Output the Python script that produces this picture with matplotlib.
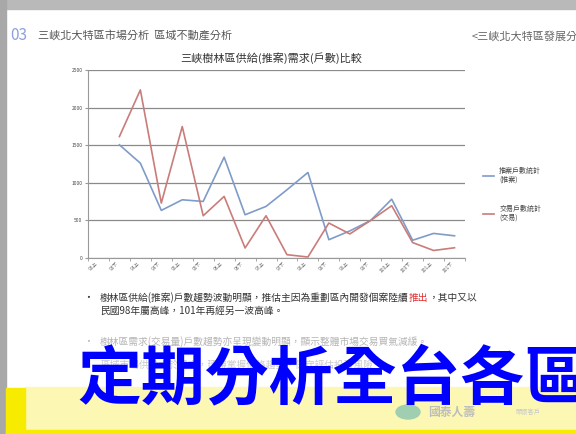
import numpy as np, matplotlib; matplotlib.use("Agg")
import matplotlib.pyplot as plt
from matplotlib.patches import Rectangle, Ellipse
plt.rcParams['font.family']=['Noto Sans CJK TC','DejaVu Sans']

periods=['93上','93下','94上','94下','95上','95下','96上','96下','97上','97下',
         '98上','98下','99上','99下','100上','100下','101上','101下']
supply=[np.nan,1505,1261,633,774,752,1341,575,686,907,1137,243,360,500,782,236,327,295]
demand=[np.nan,1615,2235,730,1748,562,819,133,562,44,13,465,320,500,695,205,100,136]
yticks=[0,500,1000,1500,2000,2500]
BLUE='#7f9cc8'; RED='#c97c7a'

fig=plt.figure(figsize=(5.76,4.34),dpi=100)
W,H=576,434
def fx(px): return px/W
def fy(py): return 1-py/H

# slide frame
fig.patches.append(Rectangle((0,fy(9)),1,9/H,transform=fig.transFigure,color='#b9b9b9',zorder=0))
fig.patches.append(Rectangle((0,0),fx(6),1,transform=fig.transFigure,color='#a8a8a8',zorder=0))
fig.patches.append(Rectangle((fx(25),fy(430)),1,(430-387)/H,transform=fig.transFigure,color='#fcf8b4',zorder=0))
fig.patches.append(Rectangle((fx(6),0),fx(19),fy(388),transform=fig.transFigure,color='#f7ec00',zorder=0))
fig.patches.append(Rectangle((fx(6),0),1,4/H,transform=fig.transFigure,color='#f7ec00',zorder=0))

# header
fig.text(fx(10),fy(36),'03',fontsize=11,style='italic',color='#8f9fe0',va='center')
fig.text(fx(38),fy(35),'三峽北大特區市場分析  區域不動產分析',fontsize=8,color='#555555',va='center')
fig.text(fx(472),fy(36),'<三峽北大特區發展分析',fontsize=8,color='#666666',va='center')

# chart
ax=fig.add_axes([fx(88),fy(258),fx(465)-fx(88),(258-70)/H])
x=np.arange(len(periods))
ax.plot(x,supply,color=BLUE,lw=1.2,label='推案戶數統計\n(推案)')
ax.plot(x,demand,color=RED,lw=1.2,label='交易戶數統計\n(交易)')
ax.set_xlim(-0.5,len(periods)-0.5); ax.set_ylim(0,2500)
ax.set_yticks(yticks); ax.set_yticklabels([str(v) for v in yticks],fontsize=3.5,color='#444444')
ax.set_xticks(x); ax.set_xticklabels(periods,fontsize=3.5,rotation=45,ha='right',color='#666666')
ax.set_xticks(np.arange(-0.5,len(periods)),minor=True)
ax.tick_params(axis='x',which='major',length=0,pad=2)
ax.tick_params(axis='x',which='minor',length=2,color='#999999')
ax.tick_params(axis='y',length=2,pad=2,color='#999999')
ax.grid(axis='y',color='#8a8a8a',lw=0.9)
for sp in ['top','right']: ax.spines[sp].set_visible(False)
ax.spines['left'].set_color('#999999'); ax.spines['bottom'].set_color('#999999')
fig.text(fx(271),fy(58),'三峽樹林區供給(推案)需求(戶數)比較',fontsize=8,color='#333333',ha='center',va='center')
ax.legend(loc='center left',bbox_to_anchor=(1.03,0.34),frameon=False,fontsize=5,
          labelspacing=3.0,handlelength=1.6,labelcolor='#444444')

# bullets
FS=7
fig.text(fx(83),fy(298),'•',fontsize=7,color='#333333',va='center')
t1=fig.text(fx(100),fy(298),'樹林區供給(推案)戶數趨勢波動明顯，推估主因為重劃區內開發個案陸續',fontsize=FS,color='#333333',va='center')
fig.canvas.draw()
bb=t1.get_window_extent()
t2=fig.text(bb.x1/W,fy(298),'推出',fontsize=FS,color='#e03030',va='center')
fig.canvas.draw()
bb2=t2.get_window_extent()
fig.text(bb2.x1/W,fy(298),'，其中又以',fontsize=FS,color='#333333',va='center')
fig.text(fx(100),fy(311),'民國98年屬高峰，101年再經另一波高峰。',fontsize=FS,color='#333333',va='center')
fig.text(fx(83),fy(342),'•',fontsize=7,color='#bbbbbb',va='center')
fig.text(fx(100),fy(342),'樹林區需求(交易量)戶數趨勢亦呈現變動明顯，顯示整體市場交易買氣減緩。',fontsize=FS,color='#b5b5b5',va='center')
fig.text(fx(100),fy(365),'區域市場供給大於需求，建議掌握價格趨勢，保守評估投資風險',fontsize=FS,color='#c8c8c8',va='center')

# logo
fig.patches.append(Ellipse((fx(408),fy(412)),24/W,14/H,transform=fig.transFigure,color='#9fcfb0',zorder=1))
fig.text(fx(428),fy(412),'國泰人壽',fontsize=8.5,color='#bdbdbd',va='center',fontweight='bold')
fig.text(fx(515),fy(412),'關懷客戶',fontsize=4.5,color='#c8c8c8',va='center')

# overlay caption
fig.text(fx(77),fy(380),'定期分析全台各區',fontsize=46,color='#0000ff',fontweight='bold',va='center')

fig.savefig('out.png',dpi=100)
